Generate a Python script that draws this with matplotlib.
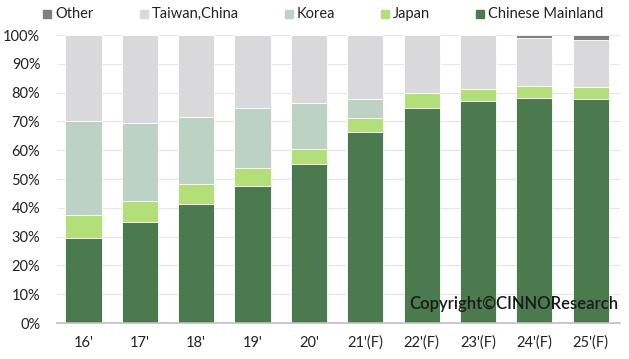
import numpy as np
import matplotlib.pyplot as plt
from matplotlib.patches import Rectangle

# Data (share of total, %)
years = ["16'", "17'", "18'", "19'", "20'", "21'(F)", "22'(F)", "23'(F)", "24'(F)", "25'(F)"]
mainland = [29.4, 35.2, 41.3, 47.6, 55.1, 66.2, 74.5, 77.1, 78.2, 77.8]
japan = [8.1, 7.3, 6.9, 6.1, 5.2, 5.1, 5.2, 4.0, 4.2, 4.0]
korea = [32.7, 26.8, 23.2, 20.8, 16.0, 6.4, 0.0, 0.0, 0.0, 0.0]
other = [0.0, 0.0, 0.0, 0.0, 0.0, 0.0, 0.0, 0.0, 1.0, 1.9]
taiwan = [100 - a - b - c - d for a, b, c, d in zip(mainland, japan, korea, other)]

colors = {
    'Chinese Mainland': '#4a7a4d',
    'Japan': '#b2df78',
    'Korea': '#bcd2c5',
    'Taiwan,China': '#d9d9dc',
    'Other': '#7f7f82',
}

plt.rcParams['font.family'] = ['Lato', 'DejaVu Sans']

W, H = 629, 359
fig = plt.figure(figsize=(W / 100, H / 100), dpi=100)
ax = fig.add_axes([0.0906, 0.1, 0.895, 0.8025])

x = np.arange(len(years))
w = 0.64
bottom = np.zeros(len(years))
series = [('Chinese Mainland', mainland), ('Japan', japan), ('Korea', korea),
          ('Taiwan,China', taiwan), ('Other', other)]
for name, vals in series:
    ax.bar(x, vals, w, bottom=bottom, color=colors[name], label=name,
           edgecolor='white', linewidth=0.6, zorder=2)
    bottom += np.array(vals)

ax.set_xlim(-0.47, 9.52)
ax.set_ylim(0, 100)
ax.set_yticks(np.arange(0, 101, 10))
ax.set_yticklabels([f'{v}%' for v in range(0, 101, 10)], fontsize=10.5, color='#222222')
ax.set_xticks(x)
ax.set_xticklabels(years, fontsize=10.5, color='#222222')
ax.tick_params(axis='both', length=0)
ax.tick_params(axis='x', pad=9)
ax.tick_params(axis='y', pad=12)
ax.grid(axis='y', color='#e6e6e6', linewidth=0.8, zorder=0)
for s in ['top', 'right', 'left']:
    ax.spines[s].set_visible(False)
ax.spines['bottom'].set_color('#bfbfbf')
ax.spines['bottom'].set_linewidth(1.2)

ax.text(9.5, 6.5, 'Copyright\u00a9CINNOResearch', ha='right', va='center',
        fontsize=12, color='#1a1a1a', fontweight='semibold', zorder=5)

# legend drawn by hand so the entries sit where the reference has them
order = ['Other', 'Taiwan,China', 'Korea', 'Japan', 'Chinese Mainland']
marker_x = [43, 140, 285, 381, 476]
ly = H - 14
for name, mx in zip(order, marker_x):
    fig.patches.append(Rectangle((mx / W, (ly - 4) / H), 8 / W, 8 / H,
                                 transform=fig.transFigure, color=colors[name]))
    fig.text((mx + 12) / W, ly / H, name, ha='left', va='center',
             fontsize=10.5, color='#222222')

fig.savefig('out.png', dpi=100)
